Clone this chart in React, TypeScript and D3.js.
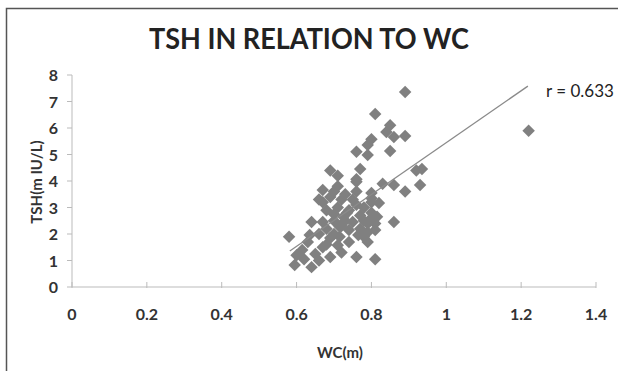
import React from "react";
import * as d3 from "d3";

const title = "TSH IN RELATION TO WC";
const xLabel = "WC(m)";
const yLabel = "TSH(m IU/L)";
const rLabel = "r = 0.633";
const xTicks = [0, 0.2, 0.4, 0.6, 0.8, 1, 1.2, 1.4];
const yTicks = [0, 1, 2, 3, 4, 5, 6, 7, 8];

const wcValues = [
  0.58, 0.595, 0.6, 0.615, 0.63, 0.635, 0.64, 0.64, 0.67, 0.67,
  0.66, 0.67, 0.67, 0.68, 0.69, 0.69, 0.69, 0.69, 0.7, 0.71,
  0.71, 0.71, 0.71, 0.715, 0.715, 0.72, 0.725, 0.735, 0.74, 0.74,
  0.74, 0.75, 0.76, 0.76, 0.76, 0.76, 0.76, 0.76, 0.765, 0.77,
  0.77, 0.78, 0.78, 0.79, 0.79, 0.79, 0.79, 0.79, 0.8, 0.8,
  0.8, 0.8, 0.8, 0.81, 0.81, 0.81, 0.81, 0.815, 0.82, 0.83,
  0.84, 0.85, 0.85, 0.86, 0.86, 0.86, 0.89, 0.89, 0.89, 0.92,
  0.935, 0.93, 1.22, 0.62, 0.65, 0.66, 0.68, 0.7, 0.7, 0.72,
  0.73, 0.73, 0.68, 0.75, 0.77, 0.78, 0.8, 0.7, 0.66, 0.72,
];
const tshValues = [
  1.9, 0.83, 1.2, 1.4, 1.7, 1.96, 0.75, 2.45, 2.45, 1.5,
  3.3, 3.66, 3.2, 2.9, 3.4, 4.4, 1.85, 1.13, 2.5, 4.2,
  3.8, 3.0, 1.58, 2.27, 1.9, 3.3, 2.65, 2.8, 2.15, 1.7,
  2.9, 2.45, 5.1, 4.07, 3.97, 3.6, 3.1, 1.13, 1.96, 4.45,
  2.7, 2.5, 3.0, 5.36, 4.98, 2.07, 1.7, 2.4, 5.58, 3.55,
  3.2, 2.8, 3.35, 6.53, 2.15, 1.05, 2.4, 2.65, 3.17, 3.9,
  5.85, 6.1, 5.13, 5.66, 3.85, 2.45, 7.36, 5.7, 3.6, 4.4,
  4.45, 3.85, 5.9, 1.05, 1.25, 2.0, 2.2, 3.6, 2.0, 1.3,
  3.5, 2.5, 1.6, 3.3, 2.2, 1.9, 2.6, 2.75, 1.0, 2.3,
];
const trendX = [0.582, 1.218];
const trendY = [1.36, 7.58];

export default function App() {
  const W = 618, H = 371;
  const x = d3.scaleLinear().domain([0, 1.4]).range([72, 596]);
  const y = d3.scaleLinear().domain([0, 8]).range([287, 75]);
  const diamond = d3.symbol(d3.symbolSquare, 78)() as string;
  const font = "Lato, 'Open Sans', sans-serif";
  const line = d3.line<number>().x((d) => x(trendX[d])).y((d) => y(trendY[d]));
  return (
    <svg width={W} height={H} style={{ position: "fixed", left: 0, top: 0, background: "#fff" }}>
      <rect x={0} y={0} width={W} height={H} fill="#fff" />
      <path d={`M6.5,${H} V8.5 H${W}`} fill="none" stroke="#555" strokeWidth={1.5} />
      <text x={309} y={49} textAnchor="middle" fontFamily={font} fontWeight={700} fontSize={28} fill="#222" textLength={320} lengthAdjust="spacingAndGlyphs">{title}</text>
      {/* axes */}
      <line x1={72} x2={72} y1={y(8)} y2={y(0)} stroke="#bbb" />
      <line x1={72} x2={596} y1={y(0)} y2={y(0)} stroke="#bbb" />
      {yTicks.map((t) => (
        <g key={"y" + t}>
          <line x1={67} x2={72} y1={y(t)} y2={y(t)} stroke="#bbb" />
          <text x={58} y={y(t) + 6} textAnchor="end" fontFamily={font} fontWeight={700} fontSize={16} fill="#333">{t}</text>
        </g>
      ))}
      {xTicks.map((t) => (
        <g key={"x" + t}>
          <line x1={x(t)} x2={x(t)} y1={y(0) - 5} y2={y(0) + 1} stroke="#bbb" />
          <text x={x(t)} y={320} textAnchor="middle" fontFamily={font} fontWeight={700} fontSize={16} fill="#333">{String(t)}</text>
        </g>
      ))}
      <text x={340} y={358} textAnchor="middle" fontFamily={font} fontWeight={700} fontSize={15} fill="#333">{xLabel}</text>
      <text transform={`translate(42,182) rotate(-90)`} textAnchor="middle" fontFamily={font} fontWeight={700} fontSize={15} fill="#333">{yLabel}</text>
      {/* points */}
      {wcValues.map((v, i) => (
        <path key={i} d={diamond} transform={`translate(${x(v)},${y(tshValues[i])}) rotate(45)`} fill="#808080" />
      ))}
      <path d={line([0, 1]) as string} stroke="#8a8a8a" strokeWidth={1.3} fill="none" />
      <text x={546} y={97} fontFamily={font} fontSize={17} fill="#222">{rLabel}</text>
    </svg>
  );
}
